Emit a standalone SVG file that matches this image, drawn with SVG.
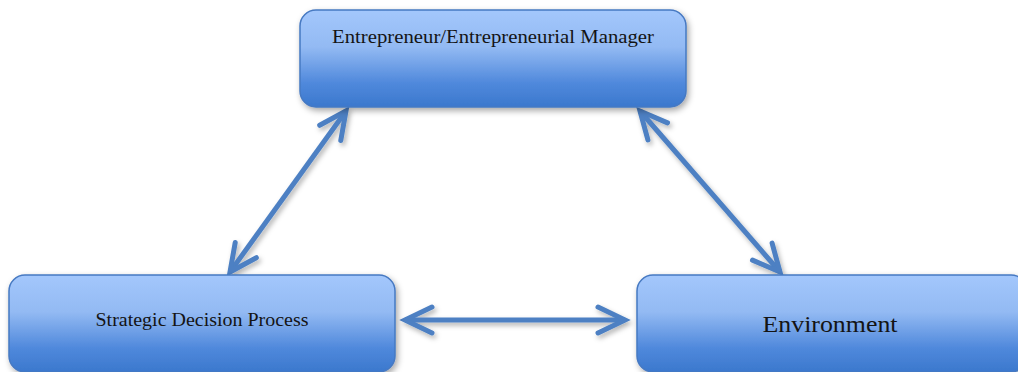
<svg xmlns="http://www.w3.org/2000/svg" width="1018" height="372" viewBox="0 0 1018 372">
<style>
.box{fill:url(#g);stroke:#4679c2;stroke-width:1.5;filter:url(#sh)}
.lbl{font-family:"Liberation Serif","Times New Roman",serif;fill:#141414;text-anchor:middle}
.con{stroke:#4d80c3;stroke-width:5;fill:none;marker-start:url(#ah);marker-end:url(#ah);filter:url(#sh2)}
</style>
<defs>
<linearGradient id="g" x1="0" y1="0" x2="0" y2="1">
<stop offset="0" stop-color="#a3c7fc"/>
<stop offset="0.38" stop-color="#93baf3"/>
<stop offset="0.75" stop-color="#5089dc"/>
<stop offset="1" stop-color="#3b78cd"/>
</linearGradient>
<filter id="sh" x="-10%" y="-10%" width="120%" height="130%">
<feDropShadow dx="2" dy="3" stdDeviation="3" flood-color="#000" flood-opacity="0.35"/>
</filter>
<filter id="sh2" filterUnits="userSpaceOnUse" x="0" y="0" width="1018" height="372">
<feDropShadow dx="2" dy="3" stdDeviation="2.5" flood-color="#000" flood-opacity="0.3"/>
</filter>
<marker id="ah" markerUnits="userSpaceOnUse" viewBox="-35 -20 40 40" refX="0" refY="0" markerWidth="40" markerHeight="40" orient="auto-start-reverse" overflow="visible">
<path d="M-27,-13 L0,0 L-27,13" fill="none" stroke="#4d80c3" stroke-width="5" stroke-linecap="round" stroke-linejoin="miter"/>
</marker>
</defs>
<g id="connectors">
<line class="con" x1="346" y1="111" x2="230" y2="272"/>
<line class="con" x1="640" y1="111" x2="780" y2="272"/>
<line class="con" x1="405" y1="320" x2="625" y2="320"/>
</g>
<g id="node-entrepreneur">
<rect class="box" x="300" y="10" width="386" height="97" rx="16"/>
<text class="lbl" x="493" y="43" font-size="18" textLength="322" lengthAdjust="spacingAndGlyphs">Entrepreneur/Entrepreneurial Manager</text>
</g>
<g id="node-strategic">
<rect class="box" x="9" y="275" width="386" height="97" rx="16"/>
<text class="lbl" x="202" y="326" font-size="18" textLength="213" lengthAdjust="spacingAndGlyphs">Strategic Decision Process</text>
</g>
<g id="node-environment">
<rect class="box" x="637" y="275" width="390" height="97" rx="16"/>
<text class="lbl" x="830" y="332" font-size="24" textLength="135" lengthAdjust="spacingAndGlyphs">Environment</text>
</g>
</svg>
